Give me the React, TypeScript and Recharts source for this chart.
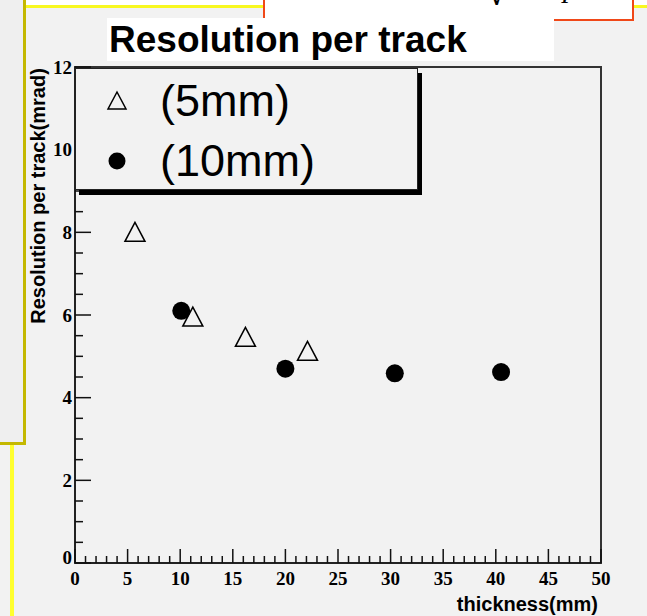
import { ScatterChart, Scatter, XAxis, YAxis, Legend, ReferenceArea, Label } from "recharts";

// resolution per track vs. radiator thickness, two sample sets
const thick5mm = [5.7, 11.2, 16.2, 22.1];
const res5mm = [8.0, 5.95, 5.46, 5.12];
const thick10mm = [10.1, 20.0, 30.4, 40.5];
const res10mm = [6.1, 4.7, 4.59, 4.62];

const xTicks = Array.from({ length: 51 }, (_, i) => i); // minor every 1 mm, labelled every 5
const yTicks = Array.from({ length: 25 }, (_, i) => i / 2); // minor every 0.5, labelled every 2

const data5 = thick5mm.map((x, i) => ({ x, y: res5mm[i] }));
const data10 = thick10mm.map((x, i) => ({ x, y: res10mm[i] }));

const legendOrder = ["(5mm)", "(10mm)"];

const BG = "#f2f2f2";
const SERIF = "'Liberation Serif', 'Times New Roman', serif";
const SANS = "'Liberation Sans', Arial, Helvetica, sans-serif";

function Triangle({ cx, cy, w }: { cx: number; cy: number; w: number }) {
  const h = w / 2;
  return (
    <polygon
      points={`${cx},${cy - h} ${cx + h},${cy + h - 1} ${cx - h},${cy + h - 1}`}
      fill="none"
      stroke="#000"
      strokeWidth={1.5}
    />
  );
}

function Dot({ cx, cy, w }: { cx: number; cy: number; w: number }) {
  return <circle cx={cx} cy={cy} r={w / 2} fill="#000" />;
}

// ticks point into the frame, like the old ROOT style
function XTick({ x, y, payload }: any) {
  const v = payload.value;
  const major = v % 5 === 0;
  return (
    <g>
      <line x1={x} x2={x} y1={y} y2={y - (major ? 14 : 7)} stroke="#111" strokeWidth={1.5} />
      {major && (
        <text x={x} y={y + 22} textAnchor="middle" fontFamily={SERIF} fontWeight="bold" fontSize={19} fill="#000">
          {v}
        </text>
      )}
    </g>
  );
}

function YTick({ x, y, payload }: any) {
  const v = payload.value;
  const major = v % 2 === 0;
  return (
    <g>
      <line x1={x} x2={x + (major ? 16 : 8)} y1={y} y2={y} stroke="#111" strokeWidth={1.5} />
      {major && (
        <text x={x - 3} y={y + 6.5 - (v === 0 ? 6 : 0)} textAnchor="end" fontFamily={SERIF} fontWeight="bold" fontSize={19} fill="#000">
          {v}
        </text>
      )}
    </g>
  );
}

const markers: Record<string, (cx: number, cy: number) => any> = {
  "(5mm)": (cx, cy) => <Triangle cx={cx} cy={cy} w={18} />,
  "(10mm)": (cx, cy) => <Dot cx={cx} cy={cy} w={17} />,
};

function LegendBox({ payload }: any) {
  const items = [...(payload || [])].sort(
    (a: any, b: any) => legendOrder.indexOf(a.value) - legendOrder.indexOf(b.value)
  );
  return (
    <div
      style={{
        position: "relative",
        width: 343,
        height: 122,
        boxSizing: "border-box",
        border: "1px solid #222",
        background: BG,
        boxShadow: "4px 5px 0 #000",
      }}
    >
      {items.map((entry: any, i: number) => (
        <div key={entry.value} style={{ position: "absolute", left: 0, top: 4 + i * 60, height: 56, width: 340 }}>
          <svg width={84} height={56} style={{ position: "absolute", left: 0, top: 0 }}>
            {markers[entry.value](41, 28)}
          </svg>
          <span
            style={{
              position: "absolute",
              left: 84,
              top: 0,
              lineHeight: "56px",
              fontFamily: SANS,
              fontSize: 45,
              color: "#000",
              whiteSpace: "nowrap",
            }}
          >
            {entry.value}
          </span>
        </div>
      ))}
    </div>
  );
}

export default function App() {
  return (
    <div style={{ position: "absolute", left: 0, top: 0, width: 647, height: 616, background: BG, overflow: "hidden" }}>
      {/* slide furniture around the plot */}
      <div style={{ position: "absolute", left: 24, top: 0, width: 623, height: 6, background: "#fff" }} />
      <div style={{ position: "absolute", left: 24, top: 5, width: 623, height: 3, background: "#f8f820" }} />
      <div style={{ position: "absolute", left: 0, top: 0, width: 23, height: 442, background: "#efefef" }} />
      <div style={{ position: "absolute", left: 23, top: 0, width: 3, height: 445, background: "#c4b800" }} />
      <div style={{ position: "absolute", left: 0, top: 442, width: 26, height: 3, background: "#c4b800" }} />
      <div style={{ position: "absolute", left: 10, top: 445, width: 4, height: 171, background: "#ffff30" }} />
      <div
        style={{
          position: "absolute",
          left: 263,
          top: -4,
          width: 371,
          height: 25,
          boxSizing: "border-box",
          background: "#fff",
          border: "2px solid #f04818",
          overflow: "hidden",
        }}
      >
        <span style={{ position: "absolute", left: 220, top: -28, fontFamily: SERIF, fontSize: 42, lineHeight: "42px" }}>√</span>
        <span style={{ position: "absolute", left: 298, top: -26, fontFamily: SERIF, fontStyle: "italic", fontSize: 30, lineHeight: "30px" }}>p</span>
      </div>
      <div
        style={{
          position: "absolute",
          left: 107,
          top: 18,
          width: 447,
          height: 43,
          background: "#fff",
          fontFamily: SANS,
          fontWeight: "bold",
          fontSize: 37,
          lineHeight: "43px",
          paddingLeft: 2,
          boxSizing: "border-box",
          color: "#000",
          whiteSpace: "nowrap",
        }}
      >
        Resolution per track
      </div>

      <div style={{ position: "absolute", left: 0, top: 0 }}>
        <ScatterChart width={647} height={616} margin={{ top: 67, right: 46, bottom: 23, left: 35 }}>
          <XAxis
            type="number"
            dataKey="x"
            domain={[0, 50]}
            ticks={xTicks}
            interval={0}
            tickSize={0}
            tickMargin={0}
            tick={<XTick />}
            tickLine={false}
            axisLine={{ stroke: "#222", strokeWidth: 2 }}
            height={30}
          >
            <Label
              content={({ viewBox }: any) => (
                <text
                  x={viewBox.x + viewBox.width - 3}
                  y={viewBox.y + 48}
                  textAnchor="end"
                  fontFamily={SANS}
                  fontWeight="bold"
                  fontSize={20}
                  fill="#000"
                >
                  thickness(mm)
                </text>
              )}
            />
          </XAxis>
          <YAxis
            type="number"
            dataKey="y"
            domain={[0, 12]}
            ticks={yTicks}
            interval={0}
            tickSize={0}
            tickMargin={0}
            tick={<YTick />}
            tickLine={false}
            axisLine={{ stroke: "#222", strokeWidth: 2 }}
            width={40}
          >
            <Label
              content={({ viewBox }: any) => {
                const lx = viewBox.x + 10;
                const ly = viewBox.y + 129;
                return (
                  <text
                    x={lx}
                    y={ly}
                    transform={`rotate(-90, ${lx}, ${ly})`}
                    textAnchor="middle"
                    fontFamily={SANS}
                    fontWeight="bold"
                    fontSize={20}
                    fill="#000"
                  >
                    Resolution per track(mrad)
                  </text>
                );
              }}
            />
          </YAxis>
          <ReferenceArea x1={0} x2={50} y1={0} y2={12} fill="none" stroke="#333" strokeWidth={2} />
          <Scatter
            name="(5mm)"
            data={data5}
            fill="#000"
            shape={(p: any) => <Triangle cx={p.cx} cy={p.cy} w={20} />}
            isAnimationActive={false}
          />
          <Scatter
            name="(10mm)"
            data={data10}
            fill="#000"
            shape={(p: any) => <Dot cx={p.cx} cy={p.cy} w={18} />}
            isAnimationActive={false}
          />
          <Legend
            layout="vertical"
            align="center"
            verticalAlign="middle"
            content={<LegendBox />}
            wrapperStyle={{ left: 75, top: 68, width: 343, height: 122 }}
          />
        </ScatterChart>
      </div>
    </div>
  );
}
